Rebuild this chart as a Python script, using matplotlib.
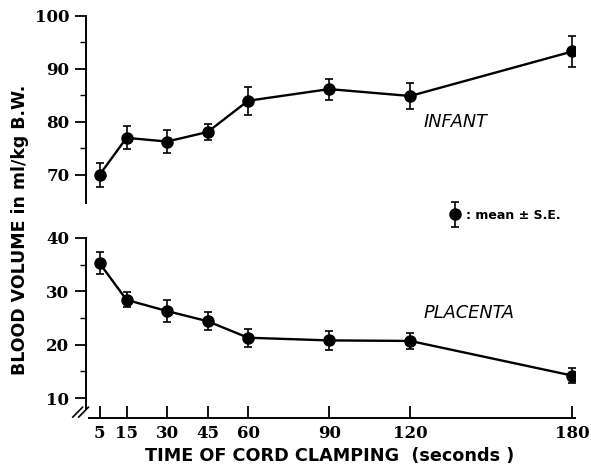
import matplotlib
matplotlib.use("Agg")
import matplotlib.pyplot as plt
from matplotlib.ticker import FixedLocator
from matplotlib.container import ErrorbarContainer
from matplotlib.legend_handler import HandlerErrorbar
from matplotlib.lines import Line2D
from matplotlib.collections import LineCollection

# Data
times = [5, 15, 30, 45, 60, 90, 120, 180]
infant_mean = [70.0, 77.0, 76.3, 78.1, 84.0, 86.2, 84.9, 93.3]
infant_se = [2.3, 2.2, 2.2, 1.5, 2.6, 2.0, 2.5, 3.0]
placenta_mean = [35.3, 28.4, 26.3, 24.4, 21.3, 20.8, 20.7, 14.2]
placenta_se = [2.1, 1.4, 2.1, 1.7, 1.7, 1.85, 1.5, 1.4]
xtick_labels = ["5", "15", "30", "45", "60", "90", "120", "180"]

W, H = 591, 465
fig = plt.figure(figsize=(W / 100, H / 100), dpi=100)

left = 86 / W
right = 575 / W
ax1 = fig.add_axes([left, 1 - 203 / H, right - left, (203 - 16) / H])
ax2 = fig.add_axes([left, 1 - 418 / H, right - left, (418 - 238) / H])

tick_font = dict(family="DejaVu Serif", weight="bold", size=12)
style = dict(fmt="-o", color="black", ms=8, lw=1.7, elinewidth=1.2,
             capsize=2.8, capthick=1.2)

ax1.errorbar(times, infant_mean, yerr=infant_se, **style)
ax2.errorbar(times, placenta_mean, yerr=placenta_se, **style)

for ax in (ax1, ax2):
    ax.set_xlim(0, 181)
    for s in ("top", "right"):
        ax.spines[s].set_visible(False)
    ax.spines["left"].set_linewidth(1.4)
    ax.tick_params(axis="y", which="major", direction="out", length=8,
                   width=1.3, pad=4)
    ax.tick_params(axis="y", which="minor", direction="out", length=4,
                   width=1.0)

ax1.set_ylim(64.7, 100)
ax1.yaxis.set_major_locator(FixedLocator([70, 80, 90, 100]))
ax1.yaxis.set_minor_locator(FixedLocator([75, 85, 95]))
ax1.spines["bottom"].set_visible(False)
ax1.set_xticks([])

ax2.set_ylim(6.25, 40)
ax2.yaxis.set_major_locator(FixedLocator([10, 20, 30, 40]))
ax2.yaxis.set_minor_locator(FixedLocator([15, 25, 35]))
ax2.spines["bottom"].set_linewidth(1.4)
ax2.spines["bottom"].set_bounds(1.0, 181)
ax2.spines["left"].set_bounds(8.0, 40)
ax2.set_xticks(times)
ax2.set_xticklabels(xtick_labels)
ax2.tick_params(axis="x", direction="in", length=9, width=1.3, pad=5)

for ax in (ax1, ax2):
    for lab in ax.get_yticklabels() + ax.get_xticklabels():
        lab.set_fontfamily(tick_font["family"])
        lab.set_fontweight(tick_font["weight"])
        lab.set_fontsize(tick_font["size"])

# axis break marks near the origin
for dx in (-0.012, 0.0):
    ax2.plot([-0.015 + dx, 0.005 + dx], [0.005, 0.06], transform=ax2.transAxes,
             color="black", lw=1.2, clip_on=False)

# labels
fig.text(20 / W, 1 - 230 / H, "BLOOD VOLUME in ml/kg B.W.", rotation=90,
         ha="center", va="center", family="DejaVu Sans", weight="bold",
         size=12.5)
fig.text(330 / W, 1 - 456 / H, "TIME OF CORD CLAMPING  (seconds )",
         ha="center", va="center", family="DejaVu Sans", weight="bold",
         size=12.7)

ax1.text(125, 80.0, "INFANT", style="italic", family="DejaVu Sans",
         size=12.8, ha="left", va="center")
ax2.text(125, 26.0, "PLACENTA", style="italic", family="DejaVu Sans",
         size=12.8, ha="left", va="center")

# legend (proxy errorbar with caps)
m_line = Line2D([], [], marker="o", ls="none", color="black", ms=8)
cap_line = Line2D([], [], marker="_", ls="none", color="black", ms=6,
                  mew=1.2)
bar_col = LineCollection([], colors="black", linewidths=1.2)
proxy = ErrorbarContainer((m_line, (cap_line, cap_line), (bar_col,)),
                          has_xerr=False, has_yerr=True)
leg = fig.legend([proxy], [": mean ± S.E."], loc="center left",
                 bbox_to_anchor=(449 / W, 1 - 215 / H), frameon=False,
                 handlelength=1.0, handletextpad=0.4, borderpad=0,
                 borderaxespad=0,
                 handler_map={ErrorbarContainer: HandlerErrorbar(yerr_size=1.0)},
                 prop=dict(family="DejaVu Sans", weight="bold", size=9))

fig.savefig("out.png", dpi=100)
